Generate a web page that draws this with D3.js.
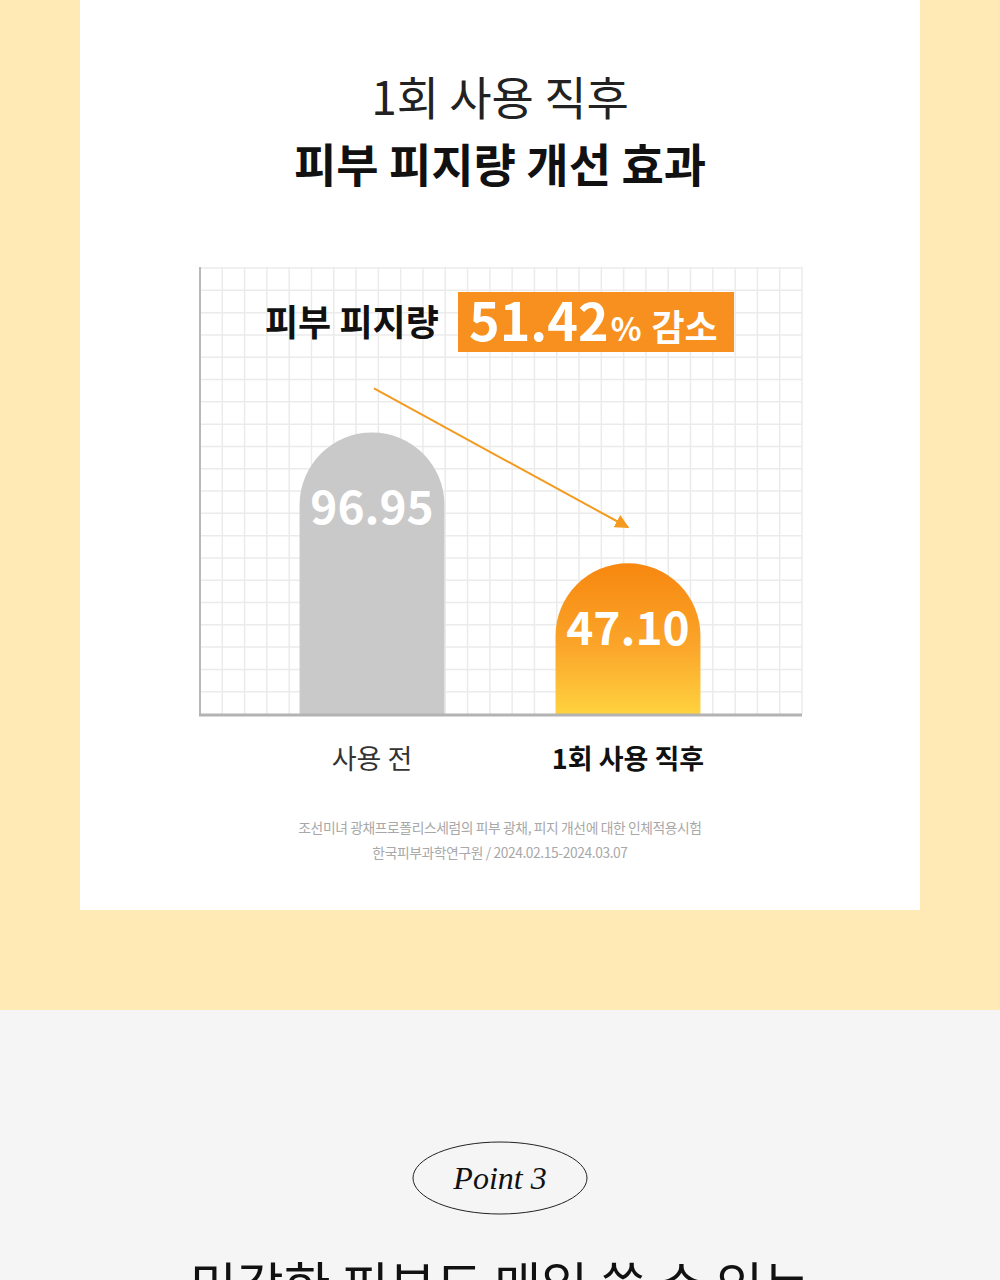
<!DOCTYPE html>
<html>
<head>
<meta charset="utf-8">
<script src="https://cdn.jsdelivr.net/npm/d3@7"></script>
<style>
  html, body { margin: 0; padding: 0; background: #f5f5f5; }
  svg { display: block; }
</style>
</head>
<body>
<script>
// chart data
var categories = ["사용 전", "1회 사용 직후"];
var values = [96.95, 47.10];
var valueLabels = ["96.95", "47.10"];
var changePct = "51.42";
var titleLines = ["1회 사용 직후", "피부 피지량 개선 효과"];
var footnotes = [
    "조선미녀 광채프로폴리스세럼의 피부 광채, 피지 개선에 대한 인체적용시험",
    "한국피부과학연구원 / 2024.02.15-2024.03.07"
];

var w = 1000, h = 1280;
var font = "'Noto Sans CJK KR', 'Noto Sans', sans-serif";

var svg = d3.select("body")
    .append("svg")
    .attr("width", w)
    .attr("height", h);

// page backgrounds
svg.append("rect").attr("width", w).attr("height", 1010).attr("fill", "#ffe9b4");
svg.append("rect").attr("y", 1010).attr("width", w).attr("height", h - 1010).attr("fill", "#f5f5f5");
svg.append("rect").attr("x", 80).attr("width", 840).attr("height", 910).attr("fill", "#ffffff");

// titles
svg.append("text")
    .attr("x", 500).attr("y", 115)
    .attr("text-anchor", "middle")
    .style("font-family", font).style("font-size", "46px").style("font-weight", 400)
    .attr("fill", "#222")
    .text(titleLines[0]);
svg.append("text")
    .attr("x", 500).attr("y", 182)
    .attr("text-anchor", "middle")
    .style("font-family", font).style("font-size", "46px").style("font-weight", 700)
    .attr("fill", "#111")
    .text(titleLines[1]);

// plot area
var plotLeft = 200, plotRight = 802, plotTop = 267, plotBottom = 714;

var x = d3.scaleBand()
    .domain(categories)
    .range([plotLeft, plotLeft + 600])
    .paddingInner(0.434)
    .paddingOuter(0.389);

var y = d3.scaleLinear()
    .domain([-10.35, 160])
    .range([plotBottom, plotTop]);

// grid
var cell = (plotRight - plotLeft) / 27;
var grid = svg.append("g").attr("class", "grid");
grid.selectAll(".vline")
    .data(d3.range(1, 28))
    .enter()
    .append("line")
    .attr("x1", function(d){ return plotLeft + d * cell; })
    .attr("x2", function(d){ return plotLeft + d * cell; })
    .attr("y1", plotTop).attr("y2", plotBottom)
    .attr("stroke", "#ebebeb").attr("stroke-width", 1.5);
grid.selectAll(".hline")
    .data(d3.range(0, 20))
    .enter()
    .append("line")
    .attr("x1", plotLeft).attr("x2", plotRight)
    .attr("y1", function(d){ return plotBottom - (20 - d) * cell; })
    .attr("y2", function(d){ return plotBottom - (20 - d) * cell; })
    .attr("stroke", "#ebebeb").attr("stroke-width", 1.5);

// gradient for second bar
var defs = svg.append("defs");
var grad = defs.append("linearGradient")
    .attr("id", "orangeGrad")
    .attr("x1", 0).attr("y1", 0).attr("x2", 0).attr("y2", 1);
grad.append("stop").attr("offset", "0%").attr("stop-color", "#f7870f");
grad.append("stop").attr("offset", "55%").attr("stop-color", "#fba52a");
grad.append("stop").attr("offset", "100%").attr("stop-color", "#ffd23f");

// bars with round tops
function barPath(d, i) {
    var x0 = x(categories[i]), bw = x.bandwidth(), r = bw / 2;
    var yt = y(d);
    return "M" + x0 + "," + plotBottom +
        "L" + x0 + "," + (yt + r) +
        "A" + r + "," + r + " 0 0 1 " + (x0 + bw) + "," + (yt + r) +
        "L" + (x0 + bw) + "," + plotBottom + "Z";
}
svg.selectAll(".bar")
    .data(values)
    .enter()
    .append("path")
    .attr("class", "bar")
    .attr("d", barPath)
    .attr("fill", function(d, i){ return i === 0 ? "#c9c9c9" : "url(#orangeGrad)"; });

svg.selectAll(".valueLabel")
    .data(values)
    .enter()
    .append("text")
    .attr("class", "valueLabel")
    .attr("x", function(d, i){ return x(categories[i]) + x.bandwidth() / 2; })
    .attr("y", function(d){ return Math.min(y(d) + 92, plotBottom - 69); })
    .attr("text-anchor", "middle")
    .style("font-family", font).style("font-size", "46px").style("font-weight", 700)
    .attr("fill", "#ffffff")
    .text(function(d, i){ return valueLabels[i]; });

// axes lines
svg.append("line")
    .attr("x1", plotLeft).attr("x2", plotLeft).attr("y1", plotTop).attr("y2", plotBottom)
    .attr("stroke", "#b8b8b8").attr("stroke-width", 2);
svg.append("line")
    .attr("x1", plotLeft - 1).attr("x2", plotRight).attr("y1", plotBottom + 1).attr("y2", plotBottom + 1)
    .attr("stroke", "#b3b3b3").attr("stroke-width", 3);

// arrow between bars
defs.append("marker")
    .attr("id", "arrowHead")
    .attr("viewBox", "0 0 10 10")
    .attr("refX", 9).attr("refY", 5)
    .attr("markerWidth", 7).attr("markerHeight", 7)
    .attr("markerUnits", "strokeWidth")
    .attr("orient", "auto")
    .append("path")
    .attr("d", "M0,0L10,5L0,10Z")
    .attr("fill", "#f39a1f");
var c0 = x(categories[0]) + x.bandwidth() / 2;
var c1 = x(categories[1]) + x.bandwidth() / 2;
svg.append("line")
    .attr("x1", c0 + 2).attr("y1", y(values[0]) - 44)
    .attr("x2", c1).attr("y2", y(values[1]) - 36)
    .attr("stroke", "#f39a1f").attr("stroke-width", 2)
    .attr("marker-end", "url(#arrowHead)");

// headline inside chart
svg.append("text")
    .attr("x", 265).attr("y", 336)
    .style("font-family", font).style("font-size", "36px").style("font-weight", 700)
    .attr("fill", "#111")
    .text("피부 피지량");
svg.append("rect")
    .attr("x", 458).attr("y", 292).attr("width", 276).attr("height", 60)
    .attr("fill", "#f7901e");
var badge = svg.append("text")
    .attr("x", 469).attr("y", 341)
    .style("font-family", font).style("font-weight", 700)
    .attr("fill", "#ffffff");
badge.append("tspan").style("font-size", "52px").text(changePct);
badge.append("tspan").style("font-size", "32px").attr("dx", 2).text("%");
badge.append("tspan").style("font-size", "36px").attr("dx", 10).text("감소");

// category labels
svg.selectAll(".catLabel")
    .data(categories)
    .enter()
    .append("text")
    .attr("class", "catLabel")
    .attr("x", function(d){ return x(d) + x.bandwidth() / 2; })
    .attr("y", 769)
    .attr("text-anchor", "middle")
    .style("font-family", font).style("font-size", "27px")
    .style("font-weight", function(d, i){ return i === 0 ? 400 : 700; })
    .attr("fill", function(d, i){ return i === 0 ? "#333" : "#111"; })
    .text(function(d){ return d; });

// footnotes
svg.selectAll(".foot")
    .data(footnotes)
    .enter()
    .append("text")
    .attr("class", "foot")
    .attr("x", 500)
    .attr("y", function(d, i){ return 833 + i * 25; })
    .attr("text-anchor", "middle")
    .style("font-family", font).style("font-size", "13.8px").style("letter-spacing", "-0.4px")
    .attr("fill", "#a8a8a8")
    .text(function(d){ return d; });

// next section
svg.append("ellipse")
    .attr("cx", 500).attr("cy", 1178).attr("rx", 87).attr("ry", 36)
    .attr("fill", "none").attr("stroke", "#222").attr("stroke-width", 1);
svg.append("text")
    .attr("x", 500).attr("y", 1189)
    .attr("text-anchor", "middle")
    .style("font-family", "'Liberation Serif', serif").style("font-style", "italic").style("font-size", "32px")
    .attr("fill", "#111")
    .text("Point 3");
svg.append("text")
    .attr("x", 500).attr("y", 1305)
    .attr("text-anchor", "middle")
    .style("font-family", font).style("font-size", "51px").style("font-weight", 400)
    .attr("fill", "#111")
    .text("민감한 피부도 매일 쓸 수 있는");
</script>
</body>
</html>
